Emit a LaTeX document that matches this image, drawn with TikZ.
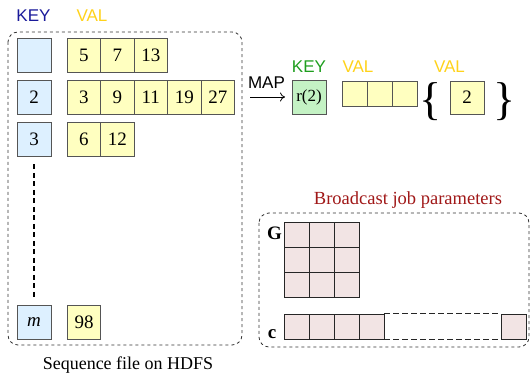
\documentclass[tikz,border=0pt]{standalone}
\usepackage{fontspec}
\setmainfont{Liberation Serif}
\newfontfamily\sansf{Liberation Sans}
\usetikzlibrary{arrows.meta}
\definecolor{keyfill}{HTML}{DDF0FF}
\definecolor{valfill}{HTML}{FFFFC0}
\definecolor{grnfill}{HTML}{C4F2C4}
\definecolor{pinkfill}{HTML}{F2E4E4}
\definecolor{keyblue}{HTML}{1A1A9A}
\definecolor{valyel}{HTML}{FFD21A}
\definecolor{keygrn}{HTML}{1E9E1E}
\definecolor{darkred}{HTML}{A01818}
\definecolor{edge}{HTML}{555555}
\tikzset{
  cell/.style={draw=edge, line width=0.9pt, inner sep=0pt, minimum width=34pt, minimum height=34pt, font=\fontsize{19}{20}\selectfont},
  keycell/.style={cell, fill=keyfill},
  valcell/.style={cell, fill=valfill, minimum width=33.5pt},
  smallval/.style={cell, fill=valfill, minimum width=25pt, minimum height=25pt},
  pcell/.style={draw=black!85, line width=0.9pt, fill=pinkfill, inner sep=0pt, minimum width=25pt, minimum height=25pt},
  hdr/.style={font=\sansf\fontsize{17}{18}\selectfont, inner sep=0pt},
  frame/.style={draw=black!80, dashed, line width=0.8pt, rounded corners=10pt},
  brace/.style={inner sep=0pt, font=\fontsize{46}{46}\selectfont, text height=32pt, text depth=10pt}
}
\begin{document}
\begin{tikzpicture}[x=1pt,y=-1pt]
\useasboundingbox (0,0) rectangle (531,379);
% left frame
\draw[frame] (8,32) rectangle (242,345);
\node[hdr, text=keyblue] (hk) at (33.5,16) {KEY};
\node[hdr, text=valyel] (hv) at (92,16) {VAL};
% keys
\node[keycell] (k1) at (34,55.5) {};
\node[keycell] (k2) at (34,97) {2};
\node[keycell] (k3) at (34,139) {3};
\node[keycell] (km) at (34,322) {\textit{m}};
% values
\node[valcell] (a1) at (83.75,55.5) {5};
\node[valcell] (a2) at (117.25,55.5) {7};
\node[valcell] (a3) at (150.75,55.5) {13};
\node[valcell] (b1) at (83.75,97) {3};
\node[valcell] (b2) at (117.25,97) {9};
\node[valcell] (b3) at (150.75,97) {11};
\node[valcell] (b4) at (184.25,97) {19};
\node[valcell] (b5) at (217.75,97) {27};
\node[valcell] (c1) at (83.75,139) {6};
\node[valcell] (c2) at (117.25,139) {12};
\node[valcell] (d1) at (84,322) {98};
\draw[line width=1.6pt, dash pattern=on 5pt off 3.5pt] ([yshift=-8pt]k3.south) -- ([yshift=8pt]km.north);
\node[font=\fontsize{18}{19}\selectfont] (seq) at (128,365) {Sequence file on HDFS};
% map
\coordinate (ms) at (250,97);
\coordinate (me) at (285,97);
\draw[-{To[length=5pt,width=9pt]}, line width=0.8pt] (ms) -- (me);
\node[hdr] (map) at (266.5,83) {MAP};
\node[hdr, text=keygrn] (gk) at (309,67) {KEY};
\node[cell, fill=grnfill, font=\fontsize{17}{18}\selectfont] (r2) at (309,97) {r(2)};
\node[hdr, text=valyel] (gv) at (358,67) {VAL};
\node[smallval] (e1) at (354.5,93.5) {};
\node[smallval] (e2) at (379.5,93.5) {};
\node[smallval] (e3) at (404.5,93.5) {};
\node[brace, anchor=base] (lb) at (431,115) {\{};
\node[hdr, text=valyel] (gv2) at (449.5,67) {VAL};
\node[cell, fill=valfill, minimum height=33pt] (two) at (467,97.5) {2};
\node[brace, anchor=base] (rb) at (505,115) {\}};
% broadcast
\node[font=\fontsize{18.5}{19}\selectfont, text=darkred, inner sep=0pt] (bc) at (408,200) {Broadcast job parameters};
\draw[frame] (259,213) rectangle (529,347);
\node[font=\bfseries\fontsize{19}{20}\selectfont, inner sep=0pt] (G) at (274.5,233) {G};
\foreach \i in {0,1,2}{
  \foreach \j in {0,1,2}{
    \node[pcell] (g\i\j) at (296.5+25*\i,234.5+25*\j) {};
  }
}
\node[pcell] (v1) at (296.5,326.5) {};
\node[pcell] (v2) at (321.5,326.5) {};
\node[pcell] (v3) at (346.5,326.5) {};
\node[pcell] (v4) at (371.5,326.5) {};
\node[pcell] (vn) at (513.5,326.5) {};
\draw[black!85, line width=0.9pt, dash pattern=on 6pt off 3pt] (v4.north east) -- (vn.north west);
\draw[black!85, line width=0.9pt, dash pattern=on 6pt off 3pt] (v4.south east) -- (vn.south west);
\node[font=\bfseries\fontsize{19}{20}\selectfont, inner sep=0pt, anchor=base] (c) at (272,338.5) {c};
\end{tikzpicture}
\end{document}
